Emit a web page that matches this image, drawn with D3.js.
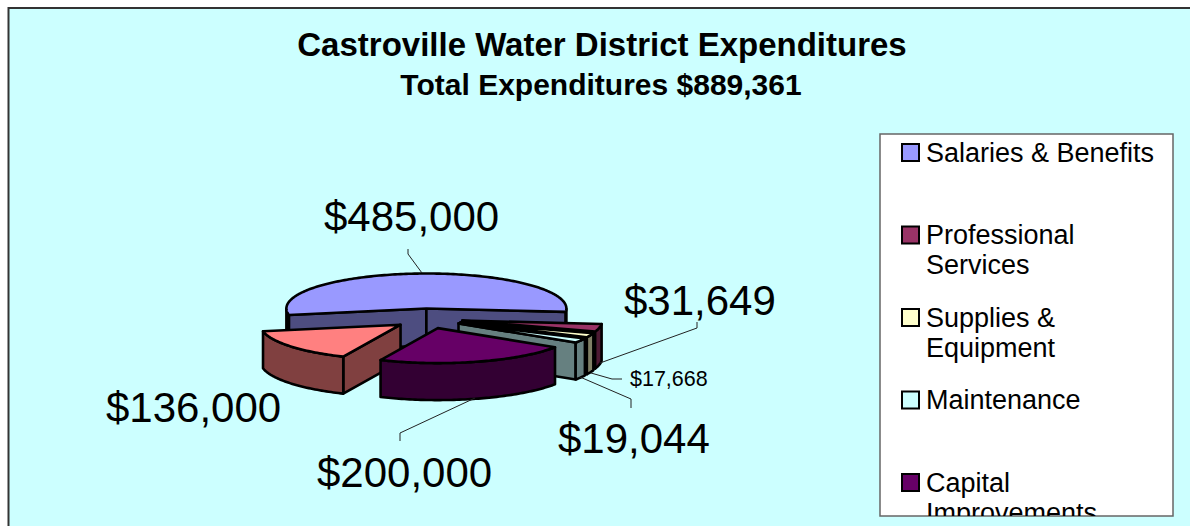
<!DOCTYPE html>
<html><head><meta charset="utf-8">
<style>html,body{margin:0;padding:0;background:#fff;overflow:hidden}svg{display:block}text{font-family:"Liberation Sans",Arial,sans-serif;fill:#000}</style>
<script src="https://cdnjs.cloudflare.com/ajax/libs/d3/7.8.5/d3.min.js"></script>
</head><body><script>
const categories = ["Salaries & Benefits","Professional Services","Supplies & Equipment","Maintenance","Capital Improvements","Other Expenses"];
const values = [485000,31649,17668,19044,200000,136000];
const valueLabels = ["$485,000","$31,649","$17,668","$19,044","$200,000","$136,000"];
const topColors = ["#9999FF","#993366","#FFFFCC","#CCFFFF","#660066","#FF8080"];
const sideColors = ["#4D4D80","#4D1A33","#808066","#668080","#330033","#804040"];
const legendLines = [["Salaries & Benefits"],["Professional","Services"],["Supplies &","Equipment"],["Maintenance"],["Capital","Improvements"],["Other Expenses"]];
const titleText = "Castroville Water District Expenditures";
const subtitleText = "Total Expenditures $889,361";

const W=1190,H=526;
const svg=d3.select("body").append("svg").attr("width",W).attr("height",H);
svg.append("rect").attr("x",8.5).attr("y",8).attr("width",W).attr("height",H).attr("fill","#CCFFFF").attr("stroke","#333").attr("stroke-width",2);
svg.append("text").attr("x",602).attr("y",56).attr("text-anchor","middle").attr("font-weight","bold").attr("font-size",33).text(titleText);
svg.append("text").attr("x",601).attr("y",95).attr("text-anchor","middle").attr("font-weight","bold").attr("font-size",30).text(subtitleText);

// projected exploded pie
const cx=428,cy=318.5,rx=140,k=0.25,depth=37,explodeX=35,explodeY=10;
const startDeg=-100.8;
const arcs=d3.pie().sort(null).startAngle(startDeg*Math.PI/180).endAngle((startDeg+360)*Math.PI/180)(values);
const px=(a,ox)=>ox+rx*Math.sin(a);
const py=(a,oy)=>oy-rx*k*Math.cos(a);
const slices=arcs.map((d,i)=>{
  const m=(d.startAngle+d.endAngle)/2;
  const ox=cx+explodeX*Math.sin(m), oy=cy-explodeY*Math.cos(m);
  const n=Math.max(3,Math.ceil((d.endAngle-d.startAngle)/0.02));
  const angles=d3.range(n+1).map(j=>d.startAngle+(d.endAngle-d.startAngle)*j/n);
  return {i,ox,oy,a0:d.startAngle,a1:d.endAngle,angles,rim:angles.map(a=>[px(a,ox),py(a,oy)])};
});
const line=d3.line();
const down=p=>[p[0],p[1]+depth];
function drawSlice(s){
  const g=svg.append("g").attr("stroke","#000").attr("stroke-width",2.6).attr("stroke-linejoin","round");
  const c=[s.ox,s.oy], a=s.rim[0], b=s.rim[s.rim.length-1];
  const wall=pts=>g.append("path").attr("d",line(pts)+"Z").attr("fill",sideColors[s.i]);
  // only walls that face the viewer
  if(Math.sin(s.a0)<0) wall([c,a,down(a),down(c)]);
  if(Math.sin(s.a1)>0) wall([c,b,down(b),down(c)]);
  let run=[];
  const flush=()=>{ if(run.length>1) wall(run.concat(run.slice().reverse().map(down))); run=[]; };
  s.angles.forEach((t,j)=>{ if(Math.cos(t)<=0) run.push(s.rim[j]); else flush(); });
  flush();
  wall([c].concat(s.rim)).attr("fill",topColors[s.i]);
}
[0,1,2,3,5,4].forEach(i=>drawSlice(slices[i]));

// label layout: text anchor position, font size and leader elbows, by category index
const labelX=[324,624,630,558,317,106], labelBase=[231,315,386,453,487,422], labelSize=[42,42,21.5,42,42,42];
const leaders=[[[422,273],[408,254],[408,249]],[[600,363],[697,328],[697,322]],[[591,373],[612,379],[622,379]],[[580,377],[631,399],[631,408]],[[475,398],[400,433],[400,441]],[]];
leaders.forEach(l=>{ if(l.length) svg.append("path").attr("d",line(l)).attr("fill","none").attr("stroke","#222").attr("stroke-width",1); });
valueLabels.forEach((t,i)=>svg.append("text").attr("x",labelX[i]).attr("y",labelBase[i]).attr("font-size",labelSize[i]).text(t));

// legend
const lx=880,ly=134,lw=293,lh=382;
svg.append("defs").append("clipPath").attr("id","lc").append("rect").attr("x",lx).attr("y",ly).attr("width",lw).attr("height",lh);
svg.append("rect").attr("x",lx).attr("y",ly).attr("width",lw).attr("height",lh).attr("fill","#fff").attr("stroke","#666").attr("stroke-width",1.5);
const lg=svg.append("g").attr("clip-path","url(#lc)");
const rowY=d3.scaleLinear().domain([0,1]).range([143,225.5]);
categories.forEach((c,i)=>{
  const y=rowY(i);
  lg.append("rect").attr("x",902).attr("y",y+1).attr("width",17).attr("height",17).attr("fill",topColors[i]).attr("stroke","#000").attr("stroke-width",2);
  legendLines[i].forEach((t,j)=>lg.append("text").attr("x",926).attr("y",y+18.5+j*30).attr("font-size",27).text(t));
});
</script></body></html>
